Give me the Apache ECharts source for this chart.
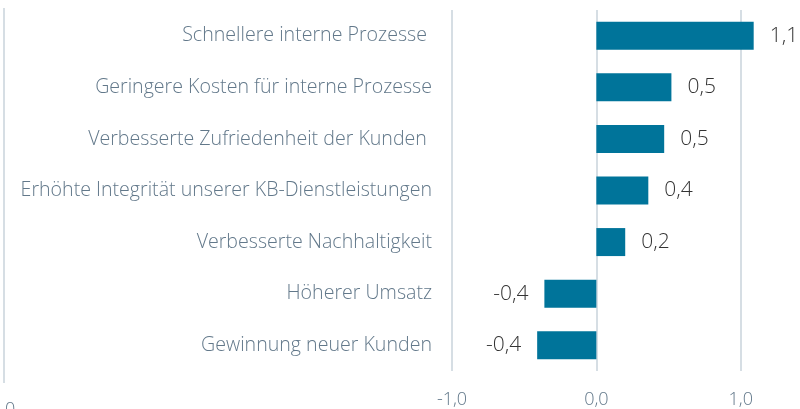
<!DOCTYPE html>
<html>
<head>
<meta charset="utf-8">
<script src="https://cdn.jsdelivr.net/npm/echarts@6/dist/echarts.min.js"></script>
<style>
  html, body { margin: 0; padding: 0; background: #fff; }
  #chart { width: 800px; height: 409px; }
</style>
</head>
<body>
<div id="chart"></div>
<script>
// Kategorien von oben nach unten
const categories = [
  'Schnellere interne Prozesse ',
  'Geringere Kosten für interne Prozesse',
  'Verbesserte Zufriedenheit der Kunden ',
  'Erhöhte Integrität unserer KB-Dienstleistungen',
  'Verbesserte Nachhaltigkeit',
  'Höherer Umsatz',
  'Gewinnung neuer Kunden'
]
const values = [1.09, 0.52, 0.47, 0.36, 0.2, -0.36, -0.41]
const xTicks = [-1, 0, 1]

const textColor = '#62788a'
const gridColor = '#d6dee4'
const barColor = '#00749a'
const font = 'Open Sans'
const fmt = v => v.toFixed(1).replace('.', ',')

const chart = echarts.init(document.getElementById('chart'))

const option = {
  animation: false,
  grid: { left: 452, right: 16, top: 10, bottom: 37, containLabel: false },
  xAxis: {
    type: 'value',
    min: -1,
    max: 1.3,
    interval: 1,
    axisLine: { show: false },
    axisTick: { show: false },
    splitLine: { show: true, showMaxLine: false, lineStyle: { color: gridColor, width: 2 } },
    axisLabel: {
      margin: 20,
      color: textColor,
      fontFamily: font,
      fontWeight: 300,
      fontSize: 18,
      showMaxLabel: false,
      formatter: v => xTicks.includes(v) ? fmt(v) : ''
    }
  },
  yAxis: {
    type: 'category',
    inverse: true,
    data: categories,
    axisLine: { show: false },
    axisTick: { show: false },
    axisLabel: {
      margin: 20,
      color: textColor,
      fontFamily: font,
      fontWeight: 300,
      fontSize: 19.6,
      padding: [4, 0, 0, 0]
    }
  },
  series: [{
    type: 'bar',
    barWidth: 28,
    data: values.map(v => ({
      value: v,
      label: { position: v < 0 ? 'left' : 'right' }
    })),
    itemStyle: { color: barColor },
    label: {
      show: true,
      distance: 16,
      color: '#333',
      fontFamily: font,
      fontWeight: 300,
      fontSize: 21,
      formatter: p => fmt(p.value)
    }
  }],
  graphic: [
    { type: 'line', shape: { x1: 4, y1: 8, x2: 4, y2: 383 }, style: { stroke: gridColor, lineWidth: 2 } },
    { type: 'text', left: 5, top: 401, style: { text: '0', fill: textColor, font: '300 18px "Open Sans"' } }
  ]
}

chart.setOption(option)

window.addEventListener('resize', () => {
  chart.resize()
})
</script>
</body>
</html>
